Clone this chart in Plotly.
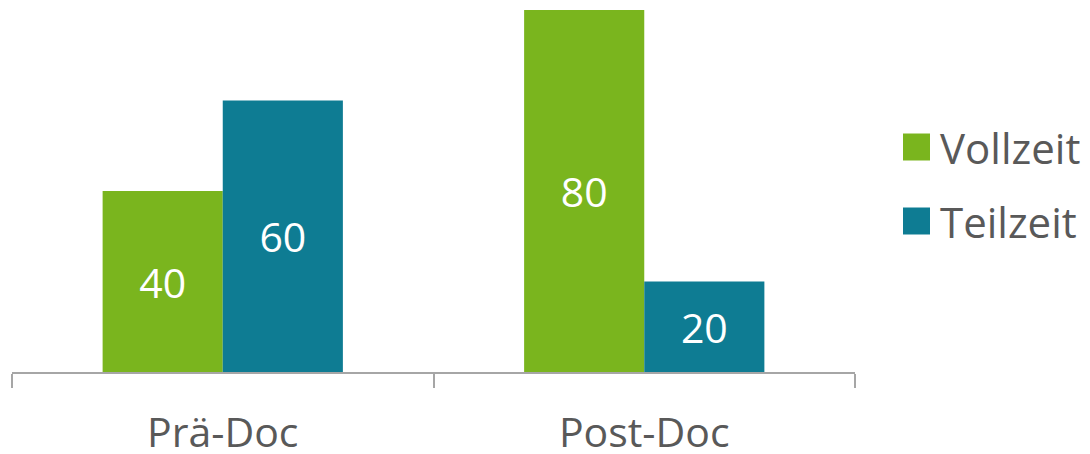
import plotly.graph_objects as go

categories = ["Prä-Doc", "Post-Doc"]
vollzeit = [40, 80]
teilzeit = [60, 20]

green = "#7AB51E"
teal = "#0E7C93"
grey_text = "#595959"
font_family = "Open Sans"

fig = go.Figure()
fig.add_trace(go.Bar(
    x=categories, y=vollzeit, name="Vollzeit",
    marker=dict(color=green, line=dict(width=0)),
    text=vollzeit, textposition="inside", insidetextanchor="middle",
    textfont=dict(color="white", size=41, family=font_family),
))
fig.add_trace(go.Bar(
    x=categories, y=teilzeit, name="Teilzeit",
    marker=dict(color=teal, line=dict(width=0)),
    text=teilzeit, textposition="inside", insidetextanchor="middle",
    textfont=dict(color="white", size=41, family=font_family),
))

# legend drawn by hand so the colour squares can be as large as in the original
legend_items = [("Vollzeit", green, 0.0), ("Teilzeit", teal, 1.0)]
for label, color, k in legend_items:
    y_mid = 147 + k * 74
    fig.add_shape(
        type="rect", xref="paper", yref="paper",
        x0=(903 - 12) / 843, x1=(930 - 12) / 843,
        y0=(372 - (y_mid + 13.5)) / 362, y1=(372 - (y_mid - 13.5)) / 362,
        fillcolor=color, line=dict(width=0),
    )
    fig.add_annotation(
        text=label, xref="paper", yref="paper",
        x=(938 - 12) / 843, y=(372 - y_mid) / 362,
        xanchor="left", yanchor="middle", showarrow=False,
        font=dict(size=42, color=grey_text, family=font_family),
    )

# page body adds an 8px offset, so margins are reduced by 8 on left/top
fig.update_layout(
    width=1090, height=454,
    margin=dict(l=4, r=243, t=2, b=90),
    paper_bgcolor="white", plot_bgcolor="white",
    barmode="group", bargap=0.43, bargroupgap=0,
    showlegend=False,
    font=dict(family=font_family, color=grey_text),
)
fig.update_xaxes(
    automargin=False,
    showline=True, linecolor="#A6A6A6", linewidth=2,
    ticks="outside", tickson="boundaries", ticklen=14, tickcolor="#A6A6A6", tickwidth=2,
    ticklabelstandoff=24,
    tickfont=dict(size=41, color=grey_text, family=font_family),
    showgrid=False,
)
fig.update_yaxes(range=[0, 80], visible=False, showgrid=False, automargin=False)

fig.write_html("out.html")
